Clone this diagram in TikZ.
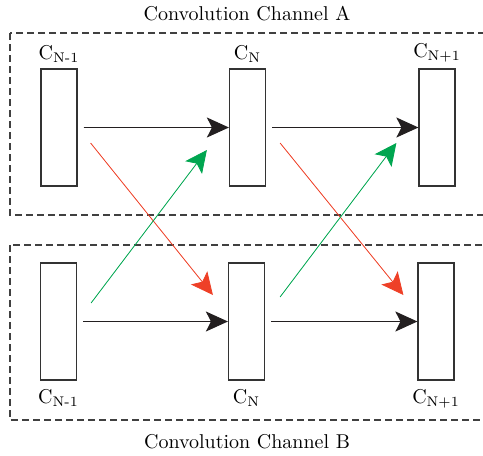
\documentclass[tikz,border=0pt]{standalone}
\usepackage{amsmath}
\usepackage{tikz}
\usetikzlibrary{positioning,calc,arrows.meta}

\definecolor{redarrow}{HTML}{EE4027}
\definecolor{greenarrow}{HTML}{00A650}
\definecolor{tipblack}{HTML}{231F20}

\begin{document}
\begin{tikzpicture}[x=0.5pt, y=-0.5pt,
  channel/.style={draw=black!75, line width=0.6pt, dash pattern=on 3.5pt off 2pt},
  layer/.style={draw=black!80, line width=0.6pt, minimum width=18pt, minimum height=58.5pt, inner sep=0pt},
  flow/.style={-{Stealth[length=11pt,width=10pt,inset=2.5pt]}, line width=0.5pt, draw=tipblack, fill=tipblack},
  cross/.style={-{Stealth[length=11pt,width=10.5pt,inset=2.5pt]}, line width=0.4pt},
  tag/.style={inner sep=1pt}]

  % Fix the picture size
  \clip (0,0) rectangle (483,456);

  % Draw channel frames
  \draw[channel] (10,33) rectangle (500,215);
  \draw[channel] (10,245) rectangle (500,420);
  \node (titleA) at (247,14) {Convolution Channel A};
  \node (titleB) at (247,442) {Convolution Channel B};

  % Channel A layers
  \node[layer] (a1) at (59,127.5) {};
  \node[layer] (a2) at (247.5,127.5) {};
  \node[layer] (a3) at (437,127.5) {};

  % Channel B layers
  \node[layer] (b1) at (58.5,321.5) {};
  \node[layer] (b2) at (246.5,321.5) {};
  \node[layer] (b3) at (436,321.5) {};

  % Layer labels
  \node[tag, above=2pt of a1] (la1) {C$_{\mathrm{N\text{-}1}}$};
  \node[tag, above=2pt of a2] (la2) {C$_{\mathrm{N}}$};
  \node[tag, above=2pt of a3] (la3) {C$_{\mathrm{N+1}}$};
  \node[tag, below=3pt of b1] (lb1) {C$_{\mathrm{N\text{-}1}}$};
  \node[tag, below=3pt of b2] (lb2) {C$_{\mathrm{N}}$};
  \node[tag, below=3pt of b3] (lb3) {C$_{\mathrm{N+1}}$};

  % Draw forward connections
  \draw[flow, shorten <=3pt] (a1) -- (a2);
  \draw[flow, shorten <=3pt] (a2) -- (a3);
  \draw[flow, shorten <=3pt] (b1) -- (b2);
  \draw[flow, shorten <=3pt] (b2) -- (b3);

  % Free ends of the cross connections
  \coordinate (r1s) at ($(a1.east)+(13,15.5)$);
  \coordinate (r1e) at ($(b2.west)+(-15,-26.5)$);
  \coordinate (r2s) at ($(a2.east)+(14,15.5)$);
  \coordinate (r2e) at ($(b3.west)+(-14,-26.5)$);
  \coordinate (g1s) at ($(b1.east)+(14,-18.5)$);
  \coordinate (g1e) at ($(a2.west)+(-22,22.5)$);
  \coordinate (g2s) at ($(b2.east)+(15,-24.5)$);
  \coordinate (g2e) at ($(a3.west)+(-22,15.5)$);

  % Draw cross connections
  \draw[cross, draw=redarrow, fill=redarrow] (r1s) -- (r1e);
  \draw[cross, draw=redarrow, fill=redarrow] (r2s) -- (r2e);
  \draw[cross, draw=greenarrow, fill=greenarrow] (g1s) -- (g1e);
  \draw[cross, draw=greenarrow, fill=greenarrow] (g2s) -- (g2e);

\end{tikzpicture}
\end{document}
